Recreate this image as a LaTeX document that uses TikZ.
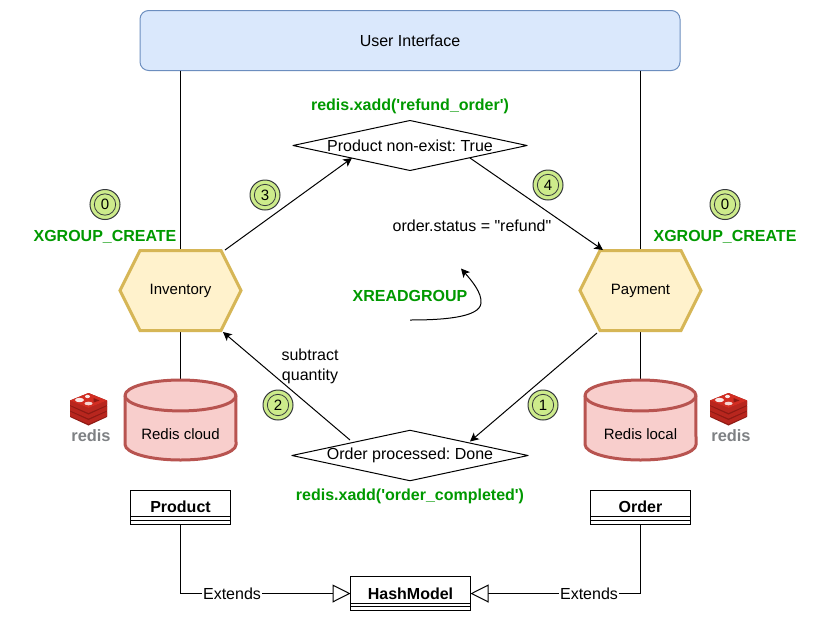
\documentclass[tikz,border=0pt]{standalone}
\usepackage{fontspec}
\usetikzlibrary{arrows.meta,shapes.geometric}
\newfontfamily\lib{Liberation Sans}
\frenchspacing
\definecolor{uifill}{HTML}{DAE8FC}
\definecolor{uiline}{HTML}{6C8EBF}
\definecolor{hexfill}{HTML}{FFF2CC}
\definecolor{hexline}{HTML}{D6B656}
\definecolor{cylfill}{HTML}{F8CECC}
\definecolor{cylline}{HTML}{B85450}
\definecolor{grn}{HTML}{009900}
\definecolor{badgefill}{HTML}{CDEB8B}
\definecolor{badgeline}{HTML}{36393D}
\definecolor{redA}{HTML}{D22D22}
\definecolor{redB}{HTML}{B8261E}
\definecolor{redC}{HTML}{8E1A14}
\definecolor{redgray}{HTML}{7E8184}
\tikzset{
  x=0.75pt,y=-0.75pt,
  every node/.style={font=\lib\fontsize{12}{14.5}\selectfont,inner sep=0pt,outer sep=0pt,align=center,text=black},
  conn/.style={line width=0.75pt,draw=black},
  arr/.style={conn,-{Stealth[length=6.5pt,width=6.5pt,inset=1.6pt]}},
  green text/.style={font=\lib\bfseries\fontsize{12}{14.5}\selectfont,text=grn},
  small text/.style={font=\lib\fontsize{11.25}{14}\selectfont},
  umltext/.style={font=\lib\bfseries\fontsize{12}{14.5}\selectfont},
  hexbox/.style={minimum width=90.75pt,minimum height=60pt,small text},
  cylbox/.style={minimum width=83.25pt,minimum height=60pt,small text},
  decision/.style={shape=diamond,draw=black,line width=0.75pt,line join=round,fill=white,aspect=4.68,minimum width=175.5pt,minimum height=37.5pt},
  umlbox/.style={draw=black,line width=0.75pt,fill=white,minimum height=25.5pt,umltext},
  extends/.style={conn,-{Triangle[open,fill=white,length=13.5pt,width=13.5pt]}},
  lbl/.style={fill=white,inner sep=0.5pt},
  badgeo/.style={shape=circle,draw=badgeline,fill=badgefill,line width=0.75pt,minimum size=22.5pt,small text},
  redislogo/.pic={
    \foreach \d in {11,5.5,0}{
      \fill[redC] (-18.5,7.5+\d) -- (0,0+\d) -- (18.5,7.5+\d) -- (18.5,13+\d) -- (0,21.5+\d) -- (-18.5,13+\d) -- cycle;
      \fill[redB] (-18.5,7.5+\d) -- (0,15+\d) -- (18.5,7.5+\d) -- (18.5,12+\d) -- (0,20+\d) -- (-18.5,12+\d) -- cycle;
      \fill[redA] (-18.5,7.5+\d) -- (0,0+\d) -- (18.5,7.5+\d) -- (0,15+\d) -- cycle;
    }
    \fill[white!90!redA] (-9,7) ellipse (4.5 and 2.2);
    \fill[white!90!redA] (-1,3.5) ellipse (2.5 and 1.6);
    \fill[white!80!redA] (0,10.5) ellipse (4 and 1.8);
    \fill[redC] (5,5) -- (11,7.5) -- (5,9.5) -- cycle;
    \node[text=redgray,font=\lib\bfseries\fontsize{12.3}{14}\selectfont] (-label) at (2.5,43) {redis};
  }
}
\newcommand{\hexoutline}[1]{%
  \filldraw[fill=hexfill,draw=hexline,line width=2.25pt,line join=miter]
    (#1.west) -- ([xshift=15pt]#1.north west) -- ([xshift=-15pt]#1.north east)
    -- (#1.east) -- ([xshift=-15pt]#1.south east) -- ([xshift=15pt]#1.south west) -- cycle;}
\newcommand{\cyloutline}[1]{%
  \filldraw[fill=cylfill,draw=cylline,line width=2.25pt]
    ([yshift=-11.6pt]#1.north west)
    arc[start angle=180,end angle=0,x radius=41.6pt,y radius=11.6pt]
    -- ([yshift=11.6pt]#1.south east)
    arc[start angle=0,end angle=-180,x radius=41.6pt,y radius=11.6pt] -- cycle;
  \draw[draw=cylline,line width=2.25pt]
    ([yshift=-11.6pt]#1.north west)
    arc[start angle=180,end angle=360,x radius=41.6pt,y radius=11.6pt];}
\begin{document}
\begin{tikzpicture}
\useasboundingbox (0,0) rectangle (831,622);
\fill[white] (0,0) rectangle (831,622);

\node[hexbox] (inv) at (180.5,290.5) {};
\node[hexbox] (pay) at (640.5,290.5) {};
\node[cylbox] (cloud) at (180.5,420) {};
\node[cylbox] (local) at (640.5,420) {};
\node[draw=uiline,fill=uifill,line width=0.75pt,rounded corners=6.5pt,minimum width=405pt,minimum height=45pt] (ui) at (410,40.5) {User Interface};

\draw[conn] (ui.south -| inv.north) -- (inv.north);
\draw[conn] (ui.south -| pay.north) -- (pay.north);
\draw[conn] (inv.south) -- (cloud.north);
\draw[conn] (pay.south) -- (local.north);

\hexoutline{inv}
\hexoutline{pay}
\node[small text] (invt) at (inv.center) {Inventory};
\node[small text] (payt) at (pay.center) {Payment};
\cyloutline{cloud}
\cyloutline{local}
\node[small text] (cloudt) at (180.5,434) {Redis cloud};
\node[small text] (localt) at (640.5,434) {Redis local};

\node[decision] (refund) at (410,145.5) {Product non-exist: True};
\node[decision] (done) at (410,455.5) {Order processed: Done};

\coordinate (c1s) at (597,333);
\coordinate (c1e) at (470,441.5);
\coordinate (c2s) at (350,440);
\coordinate (c2e) at (223,332);
\coordinate (c3s) at (225,250);
\coordinate (c3e) at (352,158);
\coordinate (c4s) at (470,158);
\coordinate (c4e) at (603,250);
\draw[arr] (c1s) -- (c1e);
\draw[arr] (c2s) -- (c2e);
\draw[arr] (c3s) -- (c3e);
\draw[arr] (c4s) -- (c4e);

\coordinate (xs) at (410,320);
\coordinate (xm) at (481,303);
\coordinate (xe) at (461,268.5);
\draw[arr] (xs) .. controls (440,320) and (480,318) .. (xm) .. controls (482,293) and (472,281) .. (xe);

\node[green text] (t1) at (410,106.5) {redis.xadd('refund\_order')};
\node[green text] (t2) at (410,496.5) {redis.xadd('order\_completed')};
\node[green text] (t3) at (410,295.5) {XREADGROUP};
\node[green text] (t4) at (105,236.5) {XGROUP\_CREATE};
\node[green text] (t5) at (725,236.5) {XGROUP\_CREATE};
\node (t6) at (472,225.5) {order.status = "refund"};
\node (t7) at (310,366.5) {subtract\\quantity};

\foreach \n/\lab/\px/\py in {b0a/0/105/204.5,b0b/0/725/204.5,b3/3/265/195,b4/4/548/185,b2/2/278/405,b1/1/543/405}{
  \node[badgeo] (\n) at (\px,\py) {};
  \draw[badgeline,line width=0.6pt] (\n.center) circle (8pt);
  \node[small text] (\n t) at (\n.center) {\lab};
}

\pic (logoa) at (88.5,393) {redislogo};
\pic (logob) at (728.5,393) {redislogo};

\node[umlbox,minimum width=75pt] (product) at (180.5,507) {Product};
\node[umlbox,minimum width=75pt] (order) at (640.5,507) {Order};
\node[umlbox,minimum width=90pt] (hash) at (410.5,593.5) {HashModel};
\foreach \m in {product,order,hash}{
  \draw[line width=0.75pt,fill=white] ([yshift=5.6pt]\m.south west) rectangle ([yshift=2.8pt]\m.south east);
}
\coordinate (pk) at (product.south |- hash.west);
\coordinate (ok) at (order.south |- hash.east);
\draw[extends] (product.south) -- (pk) -- (hash.west);
\draw[extends] (order.south) -- (ok) -- (hash.east);
\node[lbl] (e1) at (232,593.5) {Extends};
\node[lbl] (e2) at (589,593.5) {Extends};
\end{tikzpicture}
\end{document}
